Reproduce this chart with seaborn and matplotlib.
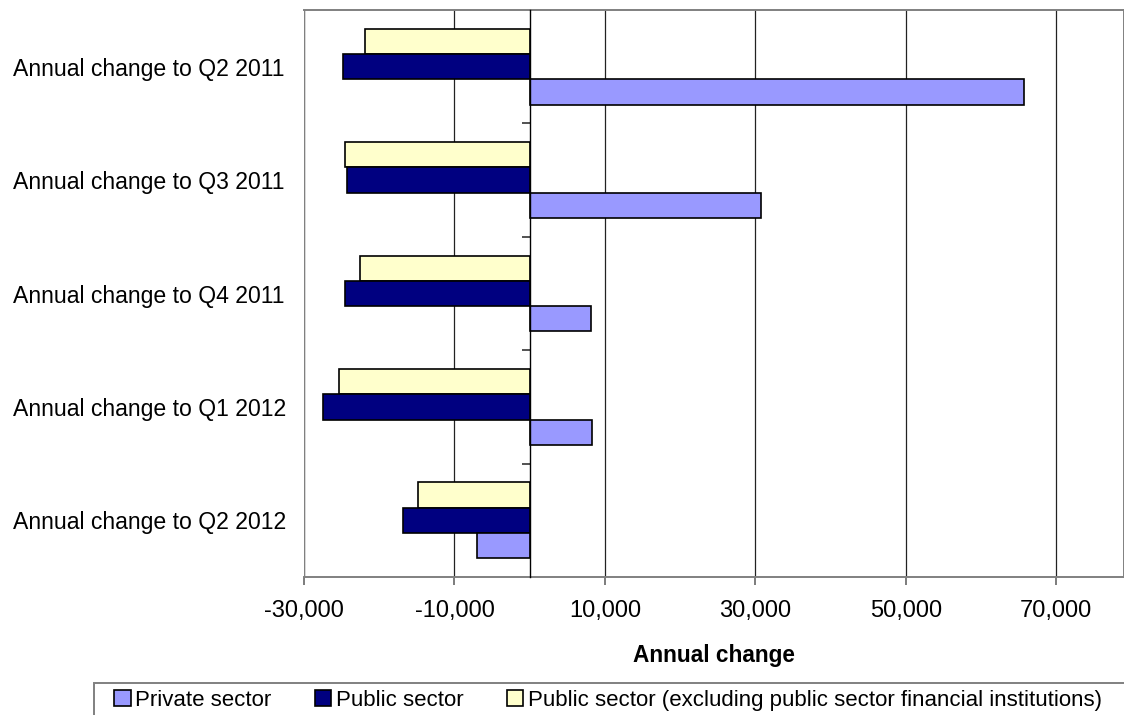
import seaborn as sns
import pandas as pd
import numpy as np
import matplotlib.pyplot as plt
from matplotlib.patches import Patch, Rectangle

categories = ['Annual change to Q2 2011', 'Annual change to Q3 2011', 'Annual change to Q4 2011',
              'Annual change to Q1 2012', 'Annual change to Q2 2012']
private_sector = [65700, 30700, 8100, 8300, -7000]
public_sector = [-24800, -24300, -24600, -27500, -16800]
public_excl_fin = [-21900, -24500, -22600, -25400, -14900]

series_names = ['Private sector', 'Public sector',
                'Public sector (excluding public sector financial institutions)']
colors = {series_names[0]: '#9999FF', series_names[1]: '#000080', series_names[2]: '#FFFFCC'}

df = pd.DataFrame({
    'Period': categories * 3,
    'Series': [series_names[0]] * 5 + [series_names[1]] * 5 + [series_names[2]] * 5,
    'Value': private_sector + public_sector + public_excl_fin,
})

sns.set_style('white')
plt.rcParams['font.family'] = ['Liberation Sans', 'DejaVu Sans']
plt.rcParams['text.color'] = 'black'
plt.rcParams['axes.labelcolor'] = 'black'

fig = plt.figure(figsize=(11.24, 7.15), dpi=100)
ax = fig.add_axes([304 / 1124, 1 - 577 / 715, 1 - 304 / 1124, (577 - 10) / 715])

# bars top-to-bottom in each group: excl, public, private
hue_order = [series_names[2], series_names[1], series_names[0]]
sns.barplot(data=df, x='Value', y='Period', hue='Series', hue_order=hue_order, order=categories,
            orient='h', palette=colors, saturation=1, width=0.67, edgecolor='black', linewidth=1.2,
            legend=False, ax=ax, zorder=3)

ax.set_xlim(-30000, 79000)
ax.set_ylim(4.5, -0.5)
ax.set_xticks(np.arange(-30000, 80000, 20000))
ax.set_xticklabels([f'{v:,}' for v in range(-30000, 80000, 20000)], fontsize=17)
ax.grid(axis='x', color='#222222', linewidth=0.9, zorder=0)
ax.grid(axis='y', visible=False)
ax.set_axisbelow(True)

# category axis crosses at zero
ax.spines['left'].set_position(('data', 0))
ax.spines['left'].set_color('black')
ax.spines['left'].set_linewidth(1)
ax.spines['left'].set_zorder(4)
for side in ['top', 'right', 'bottom']:
    ax.spines[side].set_color('#808080')
    ax.spines[side].set_linewidth(1.4)
ax.axvline(ax.get_xlim()[0], color='#808080', linewidth=1.6, zorder=5)

ax.set_yticks(np.arange(len(categories) - 1) + 0.5, minor=True)
ax.tick_params(axis='y', which='minor', direction='out', length=5.5, width=1.2, color='#333333', left=True)
ax.tick_params(axis='y', which='major', length=0, pad=(529 - 12) * 0.72, labelsize=16.6,
               labelcolor='black')
for lbl in ax.get_yticklabels():
    lbl.set_ha('left')
ax.tick_params(axis='x', direction='out', length=5.5, width=1.2, color='#666666', bottom=True, pad=11,
               labelcolor='black')

ax.set_ylabel('')
ax.set_xlabel('Annual change', fontsize=16.3, fontweight='bold', labelpad=16)

handles = [Patch(facecolor=colors[n], edgecolor='black', linewidth=1.2) for n in series_names]
fig.legend(handles, series_names, loc='upper left', bbox_to_anchor=(114 / 1124, 1 - 690 / 715),
           ncol=3, fontsize=16, frameon=False, labelcolor='black',
           handlelength=0.75, handleheight=0.75, handletextpad=0.2, columnspacing=1.95,
           borderaxespad=0, borderpad=0)
# legend box runs off the right and bottom edges like the original
fig.add_artist(Rectangle((94 / 1124, -0.05), 1.0, 1.05 - 683 / 715, transform=fig.transFigure,
                         fill=False, edgecolor='#808080', linewidth=1.4))

plt.savefig('out.png', dpi=100)
